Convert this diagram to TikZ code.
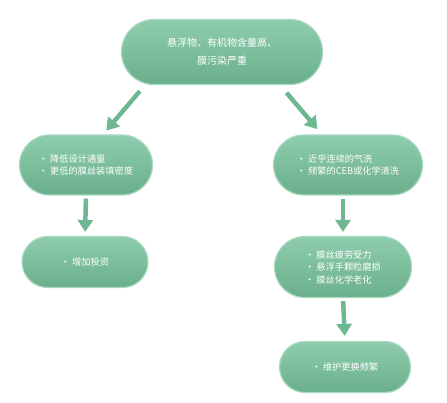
\documentclass[tikz,border=0pt]{standalone}
\usepackage{fontspec}
\newfontfamily\cjk{Noto Sans CJK SC}
\usepackage{xcolor}
\definecolor{boxtop}{HTML}{8ECDAD}
\definecolor{boxbot}{HTML}{6AAF8C}
\definecolor{rim}{HTML}{A9D9C1}
\definecolor{arrowc}{HTML}{6DB892}
\usetikzlibrary{positioning,calc,arrows.meta,shapes.misc}

\begin{document}
\begin{tikzpicture}[x=1pt,y=-1pt,font=\cjk\fontsize{9.2}{12.5}\selectfont,
  bx/.style={rounded rectangle,top color=boxtop,bottom color=boxbot,draw=rim,line width=1.2pt,
    text=white,align=left,inner sep=2pt},
  arr/.style={-{Triangle[width=15pt,length=12pt]},arrowc,line width=4.5pt}]
  \useasboundingbox (0,0) rectangle (447,402);
  \node[bx,minimum width=205pt,minimum height=65pt,align=center,
    font=\cjk\fontsize{10}{18}\selectfont] (top) at (222,52) {悬浮物、有机物含量高、\\膜污染严重};
  \node[bx,minimum width=137pt,minimum height=60pt] (l1) at (86,165) {• 降低设计通量\\• 更低的膜丝装填密度};
  \node[bx,minimum width=153pt,minimum height=60pt] (r1) at (348,165) {• 近乎连续的气洗\\• 频繁的CEB或化学清洗};
  \node[bx,minimum width=130pt,minimum height=51pt] (l2) at (85,262) {• 增加投资};
  \node[bx,minimum width=141pt,minimum height=61pt] (r2) at (343,267) {• 膜丝疲劳受力\\• 悬浮手颗粒磨损\\• 膜丝化学老化};
  \node[bx,minimum width=135pt,minimum height=51pt] (r3) at (345,367) {• 维护更换频繁};
  % connectors
  \draw[arr,shorten <=8pt,shorten >=5pt] ([xshift=-77pt]top.south) -- ([xshift=17pt]l1.north);
  \draw[arr,shorten <=10pt,shorten >=7pt] ([xshift=58pt]top.south) -- ([xshift=-26pt]r1.north);
  \draw[arr,shorten <=3pt,shorten >=4pt] (l1.south) -- (l2.north);
  \draw[arr,shorten <=3pt,shorten >=4pt] (r2.north |- r1.south) -- (r2.north);
  \draw[arr,shorten <=3pt,shorten >=5pt] (r2.south) -- (r3.north);
\end{tikzpicture}
\end{document}
